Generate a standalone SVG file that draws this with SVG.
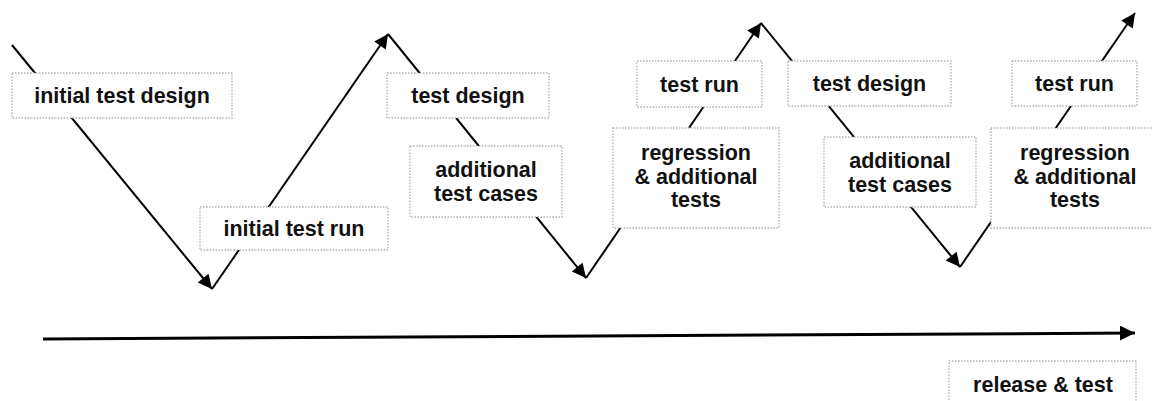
<svg xmlns="http://www.w3.org/2000/svg" width="1152" height="401" viewBox="0 0 1152 401">
  <style>
    .box { fill: #ffffff; stroke: #b3b3b3; stroke-width: 1.4; stroke-dasharray: 1.5 1.5; }
    .lbl { font-family: "Liberation Sans", Arial, sans-serif; font-weight: bold; font-size: 21.5px; fill: #111111; text-anchor: middle; }
    .flow { fill: none; stroke: #000000; stroke-width: 2; }
    .axis { fill: none; stroke: #000000; stroke-width: 3; }
  </style>
  <defs>
    <marker id="head" viewBox="0 0 10 10" refX="10" refY="5" markerWidth="8" markerHeight="7" markerUnits="strokeWidth" orient="auto">
      <path d="M0,0 L10,5 L0,10 Z" fill="#000000"/>
    </marker>
    <marker id="axisHead" viewBox="0 0 10 10" refX="10" refY="5" markerWidth="5" markerHeight="5" markerUnits="strokeWidth" orient="auto">
      <path d="M0,0 L10,5 L0,10 Z" fill="#000000"/>
    </marker>
  </defs>

  <!-- zigzag flow and timeline -->
  <g id="connectors">
    <line class="flow" x1="12" y1="45" x2="212" y2="289" marker-end="url(#head)"/>
    <line class="flow" x1="212" y1="289" x2="388" y2="34" marker-end="url(#head)"/>
    <line class="flow" x1="388" y1="34" x2="586" y2="278" marker-end="url(#head)"/>
    <line class="flow" x1="586" y1="278" x2="761" y2="23" marker-end="url(#head)"/>
    <line class="flow" x1="761" y1="23" x2="960" y2="267" marker-end="url(#head)"/>
    <line class="flow" x1="960" y1="267" x2="1135" y2="13" marker-end="url(#head)"/>
    <line class="axis" x1="43" y1="339" x2="1135" y2="333" marker-end="url(#axisHead)"/>
  </g>

  <g id="initial-test-design">
    <rect class="box" x="12" y="73" width="220" height="45"/>
    <text class="lbl" x="122" y="103">initial test design</text>
  </g>

  <g id="initial-test-run">
    <rect class="box" x="200" y="207" width="188" height="43"/>
    <text class="lbl" x="294" y="236">initial test run</text>
  </g>

  <g id="test-design-1">
    <rect class="box" x="387" y="73" width="162" height="45"/>
    <text class="lbl" x="468" y="103">test design</text>
  </g>

  <g id="additional-test-cases-1">
    <rect class="box" x="410" y="146" width="152" height="71"/>
    <text class="lbl" x="486" y="177">additional</text>
    <text class="lbl" x="486" y="201">test cases</text>
  </g>

  <g id="test-run-1">
    <rect class="box" x="637" y="61" width="125" height="46"/>
    <text class="lbl" x="699.5" y="92">test run</text>
  </g>

  <g id="regression-1">
    <rect class="box" x="613" y="128" width="166" height="100"/>
    <text class="lbl" x="696" y="160">regression</text>
    <text class="lbl" x="696" y="184">&amp; additional</text>
    <text class="lbl" x="696" y="207">tests</text>
  </g>

  <g id="test-design-2">
    <rect class="box" x="788" y="61" width="163" height="45"/>
    <text class="lbl" x="869.5" y="91">test design</text>
  </g>

  <g id="additional-test-cases-2">
    <rect class="box" x="824" y="137" width="152" height="70"/>
    <text class="lbl" x="900" y="168">additional</text>
    <text class="lbl" x="900" y="192">test cases</text>
  </g>

  <g id="test-run-2">
    <rect class="box" x="1012" y="61" width="125" height="45"/>
    <text class="lbl" x="1074.5" y="91">test run</text>
  </g>

  <g id="regression-2">
    <rect class="box" x="991" y="128" width="168" height="100"/>
    <text class="lbl" x="1075" y="160">regression</text>
    <text class="lbl" x="1075" y="184">&amp; additional</text>
    <text class="lbl" x="1075" y="207">tests</text>
  </g>

  <g id="release-and-test">
    <rect class="box" x="949" y="361" width="187" height="50"/>
    <text class="lbl" x="1043" y="392">release &amp; test</text>
  </g>
</svg>
